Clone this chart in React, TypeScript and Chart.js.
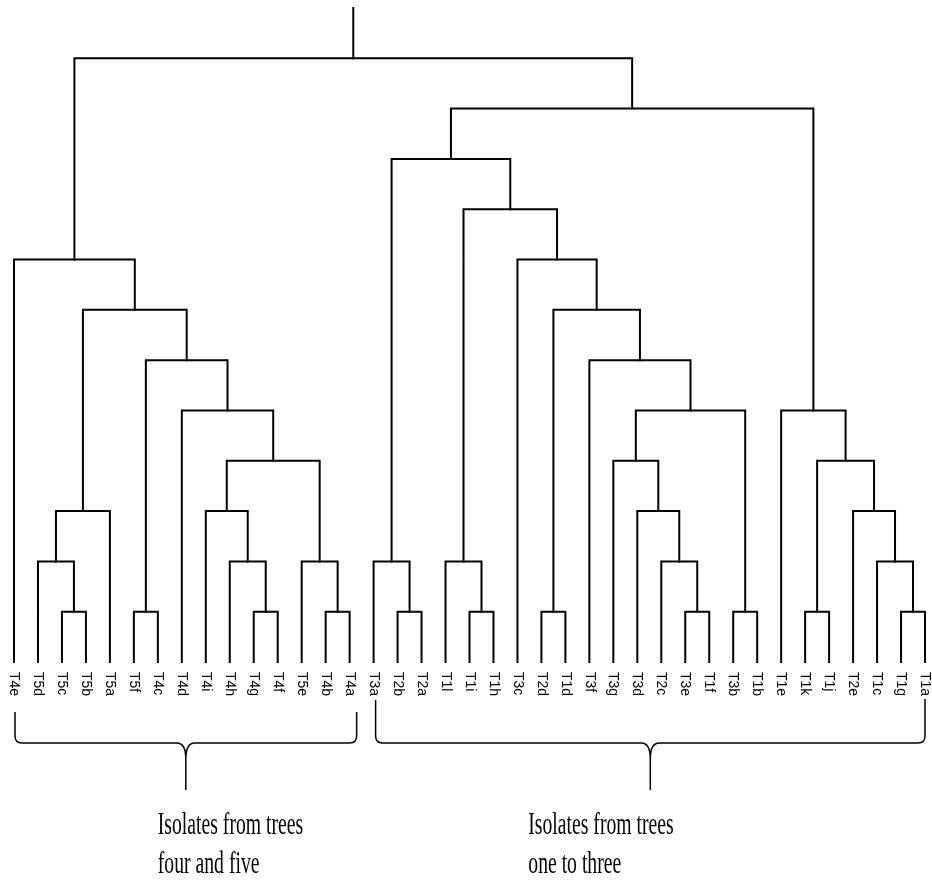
import React, { useEffect, useRef } from "react";
import { Chart, registerables } from "chart.js";

Chart.register(...registerables);

// Leaf labels, left to right
const leafLabels = [
  "T4e", "T5d", "T5c", "T5b", "T5a", "T5f", "T4c", "T4d", "T4i", "T4h", "T4g", "T4f", "T5e", "T4b", "T4a",
  "T3a", "T2b", "T2a", "T1l", "T1i", "T1h", "T3c", "T2d", "T1d", "T3f", "T3g", "T3d", "T2c", "T3e", "T1f",
  "T3b", "T1b", "T1e", "T1k", "T1j", "T2e", "T1c", "T1g", "T1a",
];

// Merges: references >= 0 are leaf indices, negative -(k+1) refers to merge k
const mergeLeft = [2, 1, -2, 5, 10, 9, 8, 13, 12, -7, 7, -4, -3, 0, 16, 15, 19, 18, 22, 28, 27, 26, 25, 30, -23, 24, -19, 21, -18, -16, 33, 37, 36, 35, -31, 32, -30, -14];
const mergeRight = [3, -1, 4, 6, 11, -5, -6, 14, -8, -9, -10, -11, -12, -13, 17, -15, 20, -17, 23, 29, -20, -21, -22, 31, -24, -25, -26, -27, -28, -29, 34, 38, -32, -33, -34, -35, -36, -37];
const mergeHeight = [1, 2, 3, 1, 1, 2, 3, 1, 2, 4, 5, 6, 7, 8, 1, 2, 1, 2, 1, 1, 2, 3, 4, 1, 5, 6, 7, 8, 9, 10, 1, 1, 2, 3, 4, 5, 11, 12];
const rootStemTop = 13;

// Group annotations
const groupFirstLeaf = [0, 15];
const groupLastLeaf = [14, 38];
const groupTextLine1 = ["Isolates from trees", "Isolates from trees"];
const groupTextLine2 = ["four and five", "one to three"];

function nodeX(ref: number, mx: number[]): number {
  return ref >= 0 ? ref : mx[-ref - 1];
}
function nodeH(ref: number): number {
  return ref >= 0 ? 0 : mergeHeight[-ref - 1];
}

function buildDatasets() {
  const mx: number[] = [];
  const ds: any[] = [];
  for (let k = 0; k < mergeLeft.length; k++) {
    const l = mergeLeft[k];
    const r = mergeRight[k];
    const xl = nodeX(l, mx);
    const xr = nodeX(r, mx);
    const h = mergeHeight[k];
    mx.push((xl + xr) / 2);
    ds.push({
      data: [
        { x: xl, y: nodeH(l) },
        { x: xl, y: h },
        { x: xr, y: h },
        { x: xr, y: nodeH(r) },
      ],
    });
  }
  const rootX = mx[mx.length - 1];
  const rootH = mergeHeight[mergeHeight.length - 1];
  ds.push({ data: [{ x: rootX, y: rootH }, { x: rootX, y: rootStemTop }] });
  return ds.map((d) => ({
    ...d,
    showLine: true,
    borderColor: "#000",
    borderWidth: 2,
    pointRadius: 0,
    fill: false,
    tension: 0,
    clip: false,
    borderJoinStyle: "miter",
    borderCapStyle: "square",
  }));
}

const annotationPlugin = {
  id: "dendroAnnotations",
  afterDatasetsDraw(chart: any) {
    const ctx = chart.ctx as CanvasRenderingContext2D;
    const xs = chart.scales.x;
    const ys = chart.scales.y;
    const base = ys.getPixelForValue(0);
    ctx.save();
    // leaf labels, rotated clockwise
    ctx.fillStyle = "#000";
    ctx.font = '14px "Liberation Sans", Arial, sans-serif';
    ctx.textAlign = "left";
    ctx.textBaseline = "middle";
    leafLabels.forEach((lab, i) => {
      const x = xs.getPixelForValue(i);
      ctx.save();
      ctx.translate(x, base + 10);
      ctx.rotate(Math.PI / 2);
      ctx.fillText(lab, 0, 0);
      ctx.restore();
    });

    // braces
    ctx.strokeStyle = "#000";
    ctx.lineWidth = 1.5;
    const yMid = base + 81;
    const yTip = base + 128;
    const tops = [
      [base + 50, base + 50],
      [base + 38, base + 37],
    ];
    const pads = [[1, 7], [2, 0]];
    const textOffsets = [-28, -122];
    for (let g = 0; g < groupFirstLeaf.length; g++) {
      const x1 = xs.getPixelForValue(groupFirstLeaf[g]) + pads[g][0];
      const x2 = xs.getPixelForValue(groupLastLeaf[g]) + pads[g][1];
      const xc = (x1 + x2) / 2;
      const r = 7;
      ctx.beginPath();
      ctx.moveTo(x1, tops[g][0]);
      ctx.lineTo(x1, yMid - r);
      ctx.quadraticCurveTo(x1, yMid, x1 + r, yMid);
      ctx.lineTo(xc - 9, yMid);
      ctx.quadraticCurveTo(xc, yMid, xc, yMid + 16);
      ctx.lineTo(xc, yTip);
      ctx.moveTo(xc, yMid + 16);
      ctx.quadraticCurveTo(xc, yMid, xc + 9, yMid);
      ctx.lineTo(x2 - r, yMid);
      ctx.quadraticCurveTo(x2, yMid, x2, yMid - r);
      ctx.lineTo(x2, tops[g][1]);
      ctx.stroke();

      // group text
      ctx.save();
      ctx.font = '31px "Liberation Serif", "Times New Roman", serif';
      ctx.textBaseline = "alphabetic";
      ctx.textAlign = "left";
      ctx.translate(xc + textOffsets[g], 0);
      ctx.scale(0.635, 1);
      ctx.fillText(groupTextLine1[g], 0, base + 172);
      ctx.fillText(groupTextLine2[g], 0, base + 211);
      ctx.restore();
    }
    ctx.restore();
  },
};

export default function App() {
  const ref = useRef<HTMLCanvasElement | null>(null);
  useEffect(() => {
    if (!ref.current) return;
    const chart = new Chart(ref.current, {
      type: "scatter",
      data: { datasets: buildDatasets() },
      options: {
        animation: false,
        responsive: false,
        devicePixelRatio: 1,
        layout: { padding: { left: 14, right: 7, top: 8, bottom: 234 } },
        plugins: { legend: { display: false }, tooltip: { enabled: false } },
        scales: {
          x: { type: "linear", min: 0, max: leafLabels.length - 1, display: false },
          y: { type: "linear", min: 0, max: rootStemTop, display: false },
        },
      },
      plugins: [annotationPlugin],
    });
    return () => chart.destroy();
  }, []);
  return (
    <div style={{ position: "absolute", left: 0, top: 0, width: 932, height: 896, background: "#fff" }}>
      <canvas ref={ref} width={932} height={896} style={{ display: "block" }} />
    </div>
  );
}
